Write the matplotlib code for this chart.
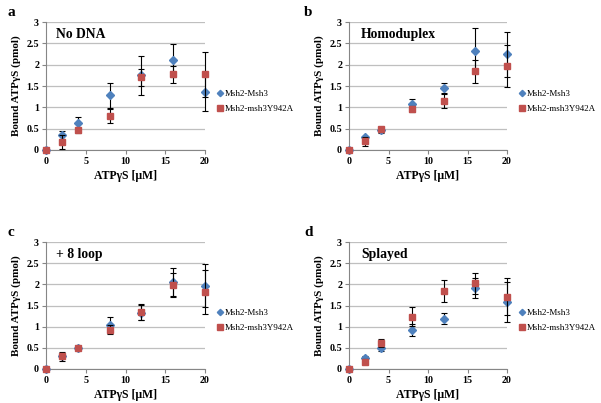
import matplotlib.pyplot as plt
from matplotlib.lines import Line2D
import numpy as np

plt.rcParams['font.family'] = ['Liberation Serif', 'DejaVu Serif']

conc = [0, 2, 4, 8, 12, 16, 20]
series_names = ["Msh2-Msh3", "Msh2-msh3Y942A"]
panel_letters = ["a", "b", "c", "d"]
panel_titles = ["No DNA", "Homoduplex", "+ 8 loop", "Splayed"]

# bound ATPgS (pmol), Msh2-Msh3 (blue diamonds)
wt_a = [0, 0.35, 0.63, 1.28, 1.75, 2.10, 1.35]
wt_a_err = [0, 0.09, 0.14, 0.29, 0.45, 0.38, 0.43]
wt_b = [0, 0.30, 0.47, 1.07, 1.45, 2.33, 2.24]
wt_b_err = [0, 0.03, 0.07, 0.12, 0.12, 0.52, 0.53]
wt_c = [0, 0.30, 0.50, 1.04, 1.33, 2.05, 1.97]
wt_c_err = [0, 0.03, 0.04, 0.18, 0.18, 0.33, 0.50]
wt_d = [0, 0.27, 0.49, 0.92, 1.19, 1.92, 1.58]
wt_d_err = [0, 0.03, 0.07, 0.15, 0.13, 0.24, 0.47]

# Msh2-msh3Y942A (red squares)
mut_a = [0, 0.18, 0.46, 0.80, 1.70, 1.77, 1.77]
mut_a_err = [0, 0.16, 0.05, 0.17, 0.21, 0.20, 0.52]
mut_b = [0, 0.20, 0.50, 0.96, 1.15, 1.84, 1.97]
mut_b_err = [0, 0.10, 0.05, 0.08, 0.17, 0.28, 0.50]
mut_c = [0, 0.30, 0.49, 0.93, 1.34, 1.98, 1.82]
mut_c_err = [0, 0.10, 0.04, 0.10, 0.19, 0.28, 0.53]
mut_d = [0, 0.17, 0.62, 1.24, 1.85, 2.02, 1.71]
mut_d_err = [0, 0.06, 0.10, 0.23, 0.26, 0.24, 0.43]

wt = [wt_a, wt_b, wt_c, wt_d]
wt_err = [wt_a_err, wt_b_err, wt_c_err, wt_d_err]
mut = [mut_a, mut_b, mut_c, mut_d]
mut_err = [mut_a_err, mut_b_err, mut_c_err, mut_d_err]

W, H = 601, 403
fig = plt.figure(figsize=(W / 100, H / 100), dpi=100)

# axes boxes in pixels: left, top, right, bottom
boxes = [(46, 22, 205, 150), (349, 22, 507, 150),
         (46, 242, 205, 369), (349, 242, 507, 369)]
letter_pos = [(7, 12), (304, 12), (7, 232), (304, 232)]

blue = "#4F81BD"
red = "#C0504D"
grid_c = "#BFBFBF"
spine_c = "#868686"

handles = [Line2D([], [], ls="none", marker="D", ms=3.2, color=blue),
           Line2D([], [], ls="none", marker="s", ms=4, color=red)]

for i in range(4):
    l, t, r, b = boxes[i]
    ax = fig.add_axes([l / W, 1 - b / H, (r - l) / W, (b - t) / H])

    ax.errorbar(conc, wt[i], yerr=wt_err[i], fmt="D", color=blue, ms=4.2,
                ecolor="black", elinewidth=0.8, capsize=2, capthick=0.8,
                clip_on=False, zorder=3)
    ax.errorbar(conc, mut[i], yerr=mut_err[i], fmt="s", color=red, ms=5,
                ecolor="black", elinewidth=0.8, capsize=2, capthick=0.8,
                clip_on=False, zorder=4)

    ax.set_xlim(0, 20)
    ax.set_ylim(0, 3)
    ax.set_xticks([0, 5, 10, 15, 20])
    ax.set_yticks([0, 0.5, 1, 1.5, 2, 2.5, 3])
    ax.set_yticklabels(["0", "0.5", "1", "1.5", "2", "2.5", "3"])
    ax.yaxis.grid(True, color=grid_c, lw=0.9)
    ax.set_axisbelow(True)
    for s in ["top", "right"]:
        ax.spines[s].set_visible(False)
    for s in ["left", "bottom"]:
        ax.spines[s].set_color(spine_c)
        ax.spines[s].set_linewidth(0.8)
    ax.tick_params(axis="both", length=3, width=0.8, color=spine_c,
                   labelsize=7.2, pad=2)
    for lab in ax.get_xticklabels() + ax.get_yticklabels():
        lab.set_fontweight("bold")

    ax.set_xlabel("ATPγS [μM]", fontsize=8.5, fontweight="bold", labelpad=3)
    ax.set_ylabel("Bound ATPγS (pmol)", fontsize=8, fontweight="bold", labelpad=4)

    ax.text(0.06 if i % 2 == 0 else 0.075, 0.905, panel_titles[i],
            transform=ax.transAxes, fontsize=9.8, fontweight="bold",
            ha="left", va="center")

    ax.legend(handles, series_names, loc="center left",
              bbox_to_anchor=(1.08, 0.38), frameon=False,
              fontsize=6.5, handlelength=0.5, handletextpad=0.25,
              labelspacing=0.75, borderaxespad=0, borderpad=0)

    lx, ly = letter_pos[i]
    fig.text(lx / W, 1 - ly / H, panel_letters[i], fontsize=11,
             fontweight="bold", ha="left", va="center")

fig.savefig("out.png", dpi=100)
